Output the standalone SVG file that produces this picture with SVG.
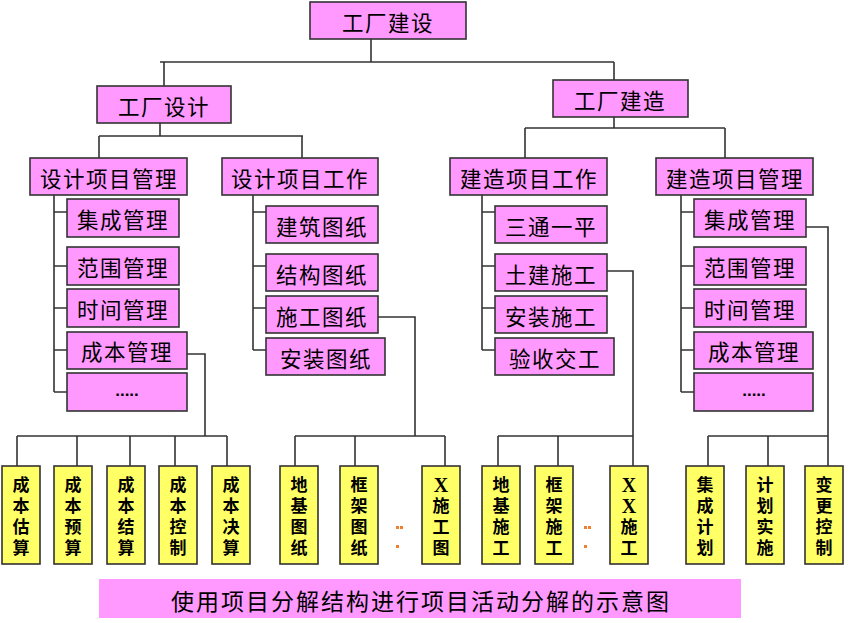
<svg xmlns="http://www.w3.org/2000/svg" width="849" height="623" viewBox="0 0 849 623">
<style>
.p{fill:#FF99FF;stroke:#333;stroke-width:1.6}
.y{fill:#FFFF66;stroke:#333;stroke-width:1.6}
.t{font-family:"Noto Sans CJK SC","Noto Sans CJK JP",sans-serif;font-size:21.5px;letter-spacing:1.5px;fill:#000;text-anchor:middle;dominant-baseline:central}
.v{font-family:"Liberation Serif","Noto Sans CJK SC",serif;font-size:17px;font-weight:bold;fill:#000;text-anchor:middle;dominant-baseline:central}
.x{font-size:20px}
.c{fill:none;stroke:#333;stroke-width:1.6}
.d{fill:#F08030}
</style>
<rect width="849" height="623" fill="#fff"/>
<g id="connectors">
<path class="c" d="M371,39V62M160,62H614M164,62V86M614,62V80"/>
<path class="c" d="M160,123V136M99,136H303M99,136V158M302,136V158"/>
<path class="c" d="M614,117V128M525,128H725M525,128V158M725,128V158"/>
<path class="c" d="M54,195V392M54,212H67M54,266H67M54,308H67M54,350H67M54,392H67"/>
<path class="c" d="M253,195V350M253,212H266M253,266H266M253,308H266M253,350H266"/>
<path class="c" d="M482,195V350M482,212H495M482,266H495M482,308H495M482,350H495"/>
<path class="c" d="M681,195V392M681,212H694M681,266H694M681,308H694M681,350H694M681,392H694"/>
<path class="c" d="M187,354H205V436M17,436H227M17,436V466M77,436V466M130,436V466M175,436V466M227,436V466"/>
<path class="c" d="M378,317H415V436M295,436H445M295,436V466M355,436V466M445,436V466"/>
<path class="c" d="M607,271H633V466M498,436H633M498,436V466M558,436V466"/>
<path class="c" d="M806,227H828V466M708,436H828M708,436V466M768,436V466"/>
</g>
<g id="n-gcjs"><rect class="p" x="310" y="2" width="156" height="37"/><text class="t" x="388" y="21">工厂建设</text></g>
<g id="n-gcsj"><rect class="p" x="97" y="86" width="134" height="37"/><text class="t" x="164" y="105">工厂设计</text></g>
<g id="n-gcjz"><rect class="p" x="553" y="80" width="135" height="37"/><text class="t" x="620" y="99">工厂建造</text></g>
<g id="n-sjxmgl"><rect class="p" x="30" y="158" width="157" height="37"/><text class="t" x="109" y="177">设计项目管理</text></g>
<g id="n-sjxmgz"><rect class="p" x="222" y="158" width="156" height="37"/><text class="t" x="300" y="177">设计项目工作</text></g>
<g id="n-jzxmgz"><rect class="p" x="450" y="158" width="157" height="37"/><text class="t" x="529" y="177">建造项目工作</text></g>
<g id="n-jzxmgl"><rect class="p" x="656" y="158" width="157" height="37"/><text class="t" x="735" y="177">建造项目管理</text></g>

<g id="n-l-jcgl"><rect class="p" x="67" y="199" width="112" height="38"/><text class="t" x="123" y="218">集成管理</text></g>
<g id="n-l-fwgl"><rect class="p" x="67" y="247" width="112" height="38"/><text class="t" x="123" y="266">范围管理</text></g>
<g id="n-l-sjgl"><rect class="p" x="67" y="289" width="112" height="38"/><text class="t" x="123" y="308">时间管理</text></g>
<g id="n-l-cbgl"><rect class="p" x="67" y="332" width="120" height="37"/><text class="t" x="127" y="350">成本管理</text></g>
<g id="n-l-more"><rect class="p" x="67" y="373" width="120" height="38"/><text class="t" x="127" y="390" style="font-family:'Liberation Sans',sans-serif;font-size:17px;font-weight:bold;letter-spacing:0">.....</text></g>

<g id="n-jztz"><rect class="p" x="266" y="206" width="112" height="37"/><text class="t" x="322" y="225">建筑图纸</text></g>
<g id="n-jgtz"><rect class="p" x="266" y="254" width="112" height="37"/><text class="t" x="322" y="273">结构图纸</text></g>
<g id="n-sgtz"><rect class="p" x="266" y="296" width="112" height="37"/><text class="t" x="322" y="315">施工图纸</text></g>
<g id="n-aztz"><rect class="p" x="266" y="338" width="119" height="37"/><text class="t" x="326" y="357">安装图纸</text></g>

<g id="n-stestablish"><rect class="p" x="495" y="206" width="112" height="37"/><text class="t" x="551" y="225">三通一平</text></g>
<g id="n-tjsg"><rect class="p" x="495" y="254" width="112" height="37"/><text class="t" x="551" y="273">土建施工</text></g>
<g id="n-azsg"><rect class="p" x="495" y="296" width="112" height="37"/><text class="t" x="551" y="315">安装施工</text></g>
<g id="n-ysjg"><rect class="p" x="495" y="338" width="119" height="37"/><text class="t" x="555" y="357">验收交工</text></g>

<g id="n-r-jcgl"><rect class="p" x="694" y="199" width="112" height="38"/><text class="t" x="750" y="218">集成管理</text></g>
<g id="n-r-fwgl"><rect class="p" x="694" y="247" width="112" height="38"/><text class="t" x="750" y="266">范围管理</text></g>
<g id="n-r-sjgl"><rect class="p" x="694" y="289" width="112" height="38"/><text class="t" x="750" y="308">时间管理</text></g>
<g id="n-r-cbgl"><rect class="p" x="694" y="332" width="119" height="37"/><text class="t" x="754" y="350">成本管理</text></g>
<g id="n-r-more"><rect class="p" x="694" y="373" width="119" height="38"/><text class="t" x="754" y="390" style="font-family:'Liberation Sans',sans-serif;font-size:17px;font-weight:bold;letter-spacing:0">.....</text></g>

<g id="n-cbgs"><rect class="y" x="2" y="466" width="38" height="98"/><text class="v" x="21"><tspan x="21" y="485">成</tspan><tspan x="21" y="506">本</tspan><tspan x="21" y="527">估</tspan><tspan x="21" y="548">算</tspan></text></g>
<g id="n-cbys"><rect class="y" x="54" y="466" width="38" height="98"/><text class="v" x="73"><tspan x="73" y="485">成</tspan><tspan x="73" y="506">本</tspan><tspan x="73" y="527">预</tspan><tspan x="73" y="548">算</tspan></text></g>
<g id="n-cbjs"><rect class="y" x="107" y="466" width="38" height="98"/><text class="v" x="126"><tspan x="126" y="485">成</tspan><tspan x="126" y="506">本</tspan><tspan x="126" y="527">结</tspan><tspan x="126" y="548">算</tspan></text></g>
<g id="n-cbkz"><rect class="y" x="159" y="466" width="38" height="98"/><text class="v" x="178"><tspan x="178" y="485">成</tspan><tspan x="178" y="506">本</tspan><tspan x="178" y="527">控</tspan><tspan x="178" y="548">制</tspan></text></g>
<g id="n-cbjues"><rect class="y" x="212" y="466" width="38" height="98"/><text class="v" x="231"><tspan x="231" y="485">成</tspan><tspan x="231" y="506">本</tspan><tspan x="231" y="527">决</tspan><tspan x="231" y="548">算</tspan></text></g>

<g id="n-djtz"><rect class="y" x="280" y="466" width="38" height="98"/><text class="v" x="299"><tspan x="299" y="485">地</tspan><tspan x="299" y="506">基</tspan><tspan x="299" y="527">图</tspan><tspan x="299" y="548">纸</tspan></text></g>
<g id="n-kjtz"><rect class="y" x="340" y="466" width="38" height="98"/><text class="v" x="359"><tspan x="359" y="485">框</tspan><tspan x="359" y="506">架</tspan><tspan x="359" y="527">图</tspan><tspan x="359" y="548">纸</tspan></text></g>
<g id="n-xsgt"><rect class="y" x="422" y="466" width="38" height="98"/><text class="v" x="441"><tspan class="x" x="441" y="485">X</tspan><tspan x="441" y="506">施</tspan><tspan x="441" y="527">工</tspan><tspan x="441" y="548">图</tspan></text></g>
<g id="dots1"><rect class="d" x="396" y="526" width="3" height="3"/><rect class="d" x="400" y="526" width="3" height="3"/><rect class="d" x="396" y="545" width="3" height="3"/></g>

<g id="n-djsg"><rect class="y" x="482" y="466" width="38" height="98"/><text class="v" x="501"><tspan x="501" y="485">地</tspan><tspan x="501" y="506">基</tspan><tspan x="501" y="527">施</tspan><tspan x="501" y="548">工</tspan></text></g>
<g id="n-kjsg"><rect class="y" x="535" y="466" width="38" height="98"/><text class="v" x="554"><tspan x="554" y="485">框</tspan><tspan x="554" y="506">架</tspan><tspan x="554" y="527">施</tspan><tspan x="554" y="548">工</tspan></text></g>
<g id="n-xxsg"><rect class="y" x="610" y="466" width="38" height="98"/><text class="v" x="629"><tspan class="x" x="629" y="485">X</tspan><tspan class="x" x="629" y="506">X</tspan><tspan x="629" y="527">施</tspan><tspan x="629" y="548">工</tspan></text></g>
<g id="dots2"><rect class="d" x="584" y="526" width="3" height="3"/><rect class="d" x="588" y="526" width="3" height="3"/><rect class="d" x="584" y="545" width="3" height="3"/></g>

<g id="n-jcjh"><rect class="y" x="686" y="466" width="38" height="98"/><text class="v" x="705"><tspan x="705" y="485">集</tspan><tspan x="705" y="506">成</tspan><tspan x="705" y="527">计</tspan><tspan x="705" y="548">划</tspan></text></g>
<g id="n-jhss"><rect class="y" x="746" y="466" width="38" height="98"/><text class="v" x="765"><tspan x="765" y="485">计</tspan><tspan x="765" y="506">划</tspan><tspan x="765" y="527">实</tspan><tspan x="765" y="548">施</tspan></text></g>
<g id="n-bgkz"><rect class="y" x="805" y="466" width="38" height="98"/><text class="v" x="824"><tspan x="824" y="485">变</tspan><tspan x="824" y="506">更</tspan><tspan x="824" y="527">控</tspan><tspan x="824" y="548">制</tspan></text></g>

<g id="caption"><rect x="99" y="579" width="642" height="39" fill="#FF99FF"/><text class="t" x="421" y="600" style="font-size:23px;letter-spacing:2px">使用项目分解结构进行项目活动分解的示意图</text></g>
</svg>
